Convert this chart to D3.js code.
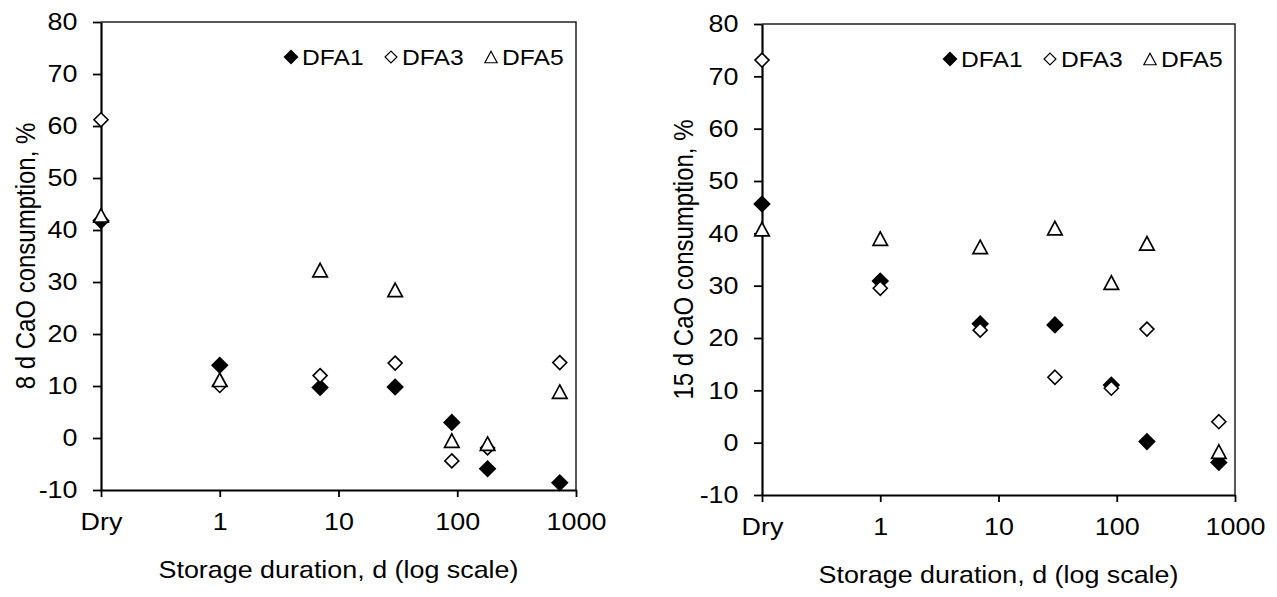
<!DOCTYPE html>
<html>
<head>
<meta charset="utf-8">
<script src="https://cdn.jsdelivr.net/npm/d3@7"></script>
<style>
  body { margin: 0; background: #fff; }
  text { font-family: "Liberation Sans", Arial, sans-serif; fill: #000; }
</style>
</head>
<body>
<svg id="chart" width="1277" height="597"></svg>
<script>
// storage durations in days ("Dry" is placed at 0.1 on the log axis)
var days = [0.1, 1, 7, 30, 90, 180, 730];
var xTickVals = [0.1, 1, 10, 100, 1000];
var xTickLabels = ["Dry", "1", "10", "100", "1000"];
var yTickVals = [-10, 0, 10, 20, 30, 40, 50, 60, 70, 80];
var seriesNames = ["DFA1", "DFA3", "DFA5"];

// 8 d CaO consumption, %
var dfa1_8d = [41.8, 14.0, 9.7, 9.8, 3.0, -5.9, -8.6];
var dfa3_8d = [61.2, 10.1, 12.0, 14.4, -4.4, -1.9, 14.5];
var dfa5_8d = [42.8, 11.2, 32.3, 28.5, -0.5, -1.1, 8.9];

// 15 d CaO consumption, %
var dfa1_15d = [45.6, 30.9, 22.7, 22.5, 11.0, 0.2, -3.8];
var dfa3_15d = [73.1, 29.5, 21.5, 12.5, 10.4, 21.7, 4.0];
var dfa5_15d = [40.8, 39.0, 37.4, 41.0, 30.6, 38.1, -1.7];

var SX = 1.12; // text in the source is slightly stretched horizontally

var svg = d3.select("#chart");

function diamond(r) { return "M0," + (-r) + "L" + r + ",0L0," + r + "L" + (-r) + ",0Z"; }
function triangle(w, h) { return "M0," + (-h / 2) + "L" + (w / 2) + "," + (h / 2) + "L" + (-w / 2) + "," + (h / 2) + "Z"; }

var markers = [
  { d: diamond(8.8), fill: "#000", stroke: "none", sw: 0 },
  { d: diamond(7), fill: "#fff", stroke: "#000", sw: 1.6 },
  { d: triangle(14.5, 13.5), fill: "#fff", stroke: "#000", sw: 1.7 }
];

function drawPanel(cfg) {
  var x = d3.scaleLog().domain([0.1, 1000]).range([cfg.x0, cfg.x1]);
  var y = d3.scaleLinear().domain([-10, 80]).range([cfg.y1, cfg.y0]);

  var g = svg.append("g");

  // frame (top / right)
  g.append("path")
    .attr("d", "M" + cfg.x0 + "," + cfg.y0 + "H" + cfg.x1 + "V" + cfg.y1)
    .attr("fill", "none")
    .attr("stroke", "#222")
    .attr("stroke-width", 1.5);

  var yAxis = g.append("g")
    .attr("transform", "translate(" + cfg.x0 + ",0)")
    .call(d3.axisLeft(y).tickValues(yTickVals).tickSize(8).tickPadding(13).tickSizeOuter(0)
      .tickFormat(function (d) { return String(d); }));

  var xAxis = g.append("g")
    .attr("transform", "translate(0," + cfg.y1 + ")")
    .call(d3.axisBottom(x).tickValues(xTickVals).tickSize(7).tickPadding(16).tickSizeOuter(0)
      .tickFormat(function (d, i) { return xTickLabels[i]; }));

  [yAxis, xAxis].forEach(function (a) {
    a.select(".domain").attr("stroke", "#000").attr("stroke-width", 2.2);
    a.selectAll(".tick line").attr("stroke", "#000").attr("stroke-width", 1.8);
    a.selectAll(".tick text")
      .attr("fill", "#000")
      .style("font-size", "24px")
      .style("font-family", "'Liberation Sans', Arial, sans-serif")
      .attr("transform", "scale(" + SX + ",1)");
  });

  // points, DFA5 drawn last so it sits on top
  cfg.series.forEach(function (vals, si) {
    var m = markers[si];
    g.selectAll(null)
      .data(vals)
      .enter()
      .append("path")
      .attr("d", m.d)
      .attr("fill", m.fill)
      .attr("stroke", m.stroke)
      .attr("stroke-width", m.sw)
      .attr("transform", function (d, i) { return "translate(" + x(days[i]) + "," + y(d) + ")"; });
  });

  // legend
  seriesNames.forEach(function (name, i) {
    var lx = cfg.x1 - 285 + i * 100;
    var ly = cfg.y0 + 35;
    var m = markers[i];
    g.append("path")
      .attr("d", m.d)
      .attr("fill", m.fill)
      .attr("stroke", m.stroke)
      .attr("stroke-width", m.sw ? 1.4 : 0)
      .attr("transform", "translate(" + lx + "," + ly + ") scale(0.85)");
    g.append("text")
      .attr("transform", "translate(" + (lx + 11) + "," + (ly + 8) + ") scale(" + SX + ",1)")
      .style("font-size", "22px")
      .text(name);
  });

  // axis titles
  g.append("text")
    .attr("transform", "translate(" + ((cfg.x0 + cfg.x1) / 2) + "," + cfg.xTitleY + ") scale(" + SX + ",1)")
    .attr("text-anchor", "middle")
    .style("font-size", "24px")
    .text("Storage duration, d (log scale)");

  g.append("text")
    .attr("transform", "translate(" + cfg.yTitleX + "," + ((cfg.y0 + cfg.y1) / 2) + ") rotate(-90) scale(1," + SX + ")")
    .attr("text-anchor", "middle")
    .style("font-size", "24px")
    .text(cfg.yTitle);
}

drawPanel({
  x0: 101, x1: 576, y0: 22, y1: 490,
  xTitleY: 578, yTitleX: 35,
  yTitle: "8 d CaO consumption, %",
  series: [dfa1_8d, dfa3_8d, dfa5_8d]
});

drawPanel({
  x0: 762, x1: 1235, y0: 24, y1: 495,
  xTitleY: 583, yTitleX: 693,
  yTitle: "15 d CaO consumption, %",
  series: [dfa1_15d, dfa3_15d, dfa5_15d]
});
</script>
</body>
</html>
